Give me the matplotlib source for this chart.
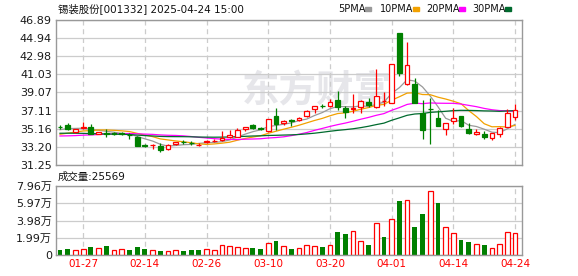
import matplotlib
matplotlib.use("Agg")
import matplotlib.pyplot as plt
from matplotlib.patches import Rectangle
import pandas as pd

plt.rcParams['font.family'] = ['DejaVu Sans', 'Noto Sans CJK SC']

# trading days shown (2025)
dates = ["01-22", "01-23", "01-24", "01-27", "02-05", "02-06", "02-07", "02-10", "02-11", "02-12",
         "02-13", "02-14", "02-17", "02-18", "02-19", "02-20", "02-21", "02-24", "02-25", "02-26",
         "02-27", "02-28", "03-03", "03-04", "03-05", "03-06", "03-07", "03-10", "03-11", "03-12",
         "03-13", "03-14", "03-17", "03-18", "03-19", "03-20", "03-21", "03-24", "03-25", "03-26",
         "03-27", "03-28", "03-31", "04-01", "04-02", "04-03", "04-07", "04-08", "04-09", "04-10",
         "04-11", "04-14", "04-15", "04-16", "04-17", "04-18", "04-21", "04-22", "04-23", "04-24"]

open_ = [35.38, 35.53, 34.77, 35.29, 35.31, 34.59, 34.66, 34.64, 34.66, 34.52,
         34.31, 33.40, 33.39, 33.34, 32.94, 33.48, 33.75, 33.66, 33.43, 33.75,
         33.84, 33.91, 34.23, 34.31, 35.10, 35.53, 35.21, 34.88, 36.50, 35.75,
         36.07, 36.10, 36.54, 37.26, 37.66, 37.58, 38.26, 37.44, 37.26, 37.47,
         38.05, 37.47, 38.17, 37.97, 45.45, 39.95, 39.95, 36.82, 37.27, 36.28,
         35.17, 36.03, 36.54, 35.10, 34.56, 34.56, 34.20, 34.59, 35.39, 36.39]
high = [35.53, 35.78, 35.13, 35.89, 35.64, 34.85, 35.17, 34.81, 34.77, 34.74,
        34.38, 33.52, 33.52, 33.62, 33.48, 33.77, 33.95, 33.80, 33.60, 33.98,
        34.02, 34.92, 35.03, 35.21, 35.39, 35.71, 35.39, 36.25, 37.40, 36.10,
        36.18, 36.39, 37.18, 37.62, 37.87, 38.37, 39.27, 37.62, 38.91, 38.26,
        38.48, 41.57, 39.16, 42.18, 45.52, 44.52, 40.60, 38.26, 38.44, 37.18,
        35.78, 37.40, 36.57, 35.75, 35.10, 34.88, 34.70, 35.39, 37.33, 37.79]
low = [35.10, 35.03, 34.74, 35.17, 34.56, 34.56, 34.31, 34.49, 34.52, 34.09,
       33.30, 33.16, 33.01, 32.62, 32.83, 33.44, 33.55, 33.45, 33.30, 33.66,
       33.73, 33.88, 34.13, 34.23, 34.92, 35.17, 34.99, 34.85, 35.03, 35.53,
       35.42, 36.03, 36.39, 36.82, 37.36, 37.47, 37.18, 36.36, 36.82, 36.82,
       37.47, 37.44, 37.62, 37.90, 40.85, 39.91, 37.93, 34.09, 33.52, 35.42,
       34.49, 35.67, 35.39, 34.59, 34.49, 34.09, 33.95, 34.31, 35.35, 36.10]
close = [35.31, 35.17, 35.10, 35.32, 34.59, 34.81, 34.59, 34.62, 34.64, 34.45,
         33.34, 33.32, 33.42, 32.90, 33.44, 33.73, 33.70, 33.58, 33.45, 33.80,
         33.88, 34.13, 34.49, 35.03, 35.35, 35.21, 35.14, 36.21, 35.67, 36.00,
         35.96, 36.36, 37.04, 37.58, 37.58, 38.05, 37.54, 37.00, 37.40, 38.15,
         37.76, 38.66, 38.19, 42.14, 41.21, 42.00, 37.97, 35.03, 37.25, 35.46,
         35.75, 36.28, 35.46, 34.74, 34.77, 34.31, 34.67, 35.21, 36.82, 37.18]
# volume in hands
volume = [5800, 6900, 5800, 6500, 9200, 7700, 10400, 5800, 6500, 5800,
          9200, 6900, 5800, 4600, 4600, 5800, 4600, 5800, 5800, 6900,
          5800, 11200, 10000, 8800, 7700, 8100, 6900, 13800, 16500, 10000,
          6900, 7700, 11200, 10000, 9200, 11200, 26500, 24200, 27300, 16100,
          11500, 36900, 20800, 41100, 62300, 63100, 32300, 47700, 73400, 60000,
          32300, 25400, 17300, 15000, 12700, 11200, 8100, 12700, 26500, 25569]
# closes of the 29 sessions before the window, needed for the moving averages
closes_before = [35.0, 35.3, 35.6, 35.4, 35.2, 35.5, 35.1, 35.3, 35.0, 35.2,
                 34.9, 34.6, 34.3, 34.1, 33.9, 33.8, 34.0, 34.2, 34.1, 34.1,
                 33.9, 34.0, 34.1, 34.2, 34.1, 34.6, 35.0, 35.2, 35.2]

price_ticks = [31.25, 33.20, 35.16, 37.11, 39.07, 41.03, 42.98, 44.94, 46.89]
vol_ticks = [0, 1.99, 3.98, 5.97, 7.96]
ma_periods = [5, 10, 20, 30]
ma_colors = ["#999999", "#f2a100", "#ff00ff", "#006a2e"]

RED = "#ff0000"
GREEN = "#008000"
W, H = 578, 276

fig = plt.figure(figsize=(W / 100, H / 100), dpi=100)
ax = fig.add_axes([56 / W, 1 - 165 / H, 466 / W, 145 / H])
axv = fig.add_axes([56 / W, 1 - 255 / H, 466 / W, 69 / H])

n = len(close)
x = list(range(n))
up = [c >= o for o, c in zip(open_, close)]
# volume colour: doji bars follow the previous close
vol_up = []
for i in range(n):
    if abs(close[i] - open_[i]) < 0.03 and i > 0:
        vol_up.append(close[i] >= close[i - 1])
    else:
        vol_up.append(up[i])

# watermark behind everything
ax.text(0.56, 0.5, "东方财富", transform=ax.transAxes, fontsize=27, fontweight="bold",
        color="#e6e6ea", ha="center", va="center", zorder=0.5)

# moving averages
all_close = pd.Series(closes_before + close)
for k, (p, col) in enumerate(zip(ma_periods, ma_colors)):
    ma = all_close.rolling(p).mean().iloc[len(closes_before):].values
    ax.plot(x, ma, color=col, lw=0.9, zorder=2 + k * 0.1)

# candles
bw = 0.62
for i in x:
    col = RED if up[i] else GREEN
    ax.vlines(i, low[i], high[i], color=col, lw=0.9, zorder=3)
    bottom = min(open_[i], close[i])
    h = max(abs(close[i] - open_[i]), 0.03)
    ax.add_patch(Rectangle((i - bw / 2, bottom), bw, h,
                           facecolor="white" if up[i] else GREEN,
                           edgecolor=col, lw=0.9, zorder=4))

ax.set_xlim(-0.52, n - 0.1)
ax.set_ylim(price_ticks[0], price_ticks[-1])
ax.set_yticks(price_ticks)
ax.set_yticklabels(["%.2f" % t for t in price_ticks])

# volume bars
vol_wan = [v / 10000 for v in volume]
for i in x:
    if vol_up[i]:
        axv.bar(i, vol_wan[i], width=bw, facecolor="white", edgecolor=RED, lw=0.9)
    else:
        axv.bar(i, vol_wan[i], width=bw, color=GREEN, lw=0)
axv.set_xlim(-0.52, n - 0.1)
axv.set_ylim(0, vol_ticks[-1])
axv.set_yticks(vol_ticks)
axv.set_yticklabels(["0"] + ["%.2f万" % t for t in vol_ticks[1:]])

tick_idx = list(range(3, n, 8))
for a in (ax, axv):
    a.set_xticks(tick_idx)
    a.grid(axis="y", color="#cccccc", lw=0.9)
    a.grid(axis="x", color="#cccccc", lw=0.9, ls=(0, (4, 3)))
    a.set_axisbelow(True)
    a.tick_params(length=0, labelsize=8, colors="#1a1a1a", pad=3)
    for s in a.spines.values():
        s.set_color("#999999")
        s.set_linewidth(1)
ax.set_xticklabels([])
axv.set_xticklabels([dates[i] for i in tick_idx])
axv.tick_params(axis="x", colors=RED, labelsize=7.5, pad=3)

# header texts
fig.text(58 / W, 1 - 9 / H, "锡装股份[001332] 2025-04-24 15:00", fontsize=7.5,
         va="center", color="#111111")
legend_x = [338, 380, 426, 472]
square_x = [365, 413, 459, 505]
for lx, sx, p, col in zip(legend_x, square_x, ma_periods, ma_colors):
    fig.text(lx / W, 1 - 9 / H, "%dPMA" % p, fontsize=7, va="center", color="#111111")
    fig.patches.append(Rectangle((sx / W, 1 - 10.5 / H), 6 / W, 3.5 / H,
                                 transform=fig.transFigure, color=col))
fig.text(58 / W, 1 - 177 / H, "成交量:%d" % volume[-1], fontsize=7.5,
         va="center", color="#111111")

fig.savefig("out.png", dpi=100)
